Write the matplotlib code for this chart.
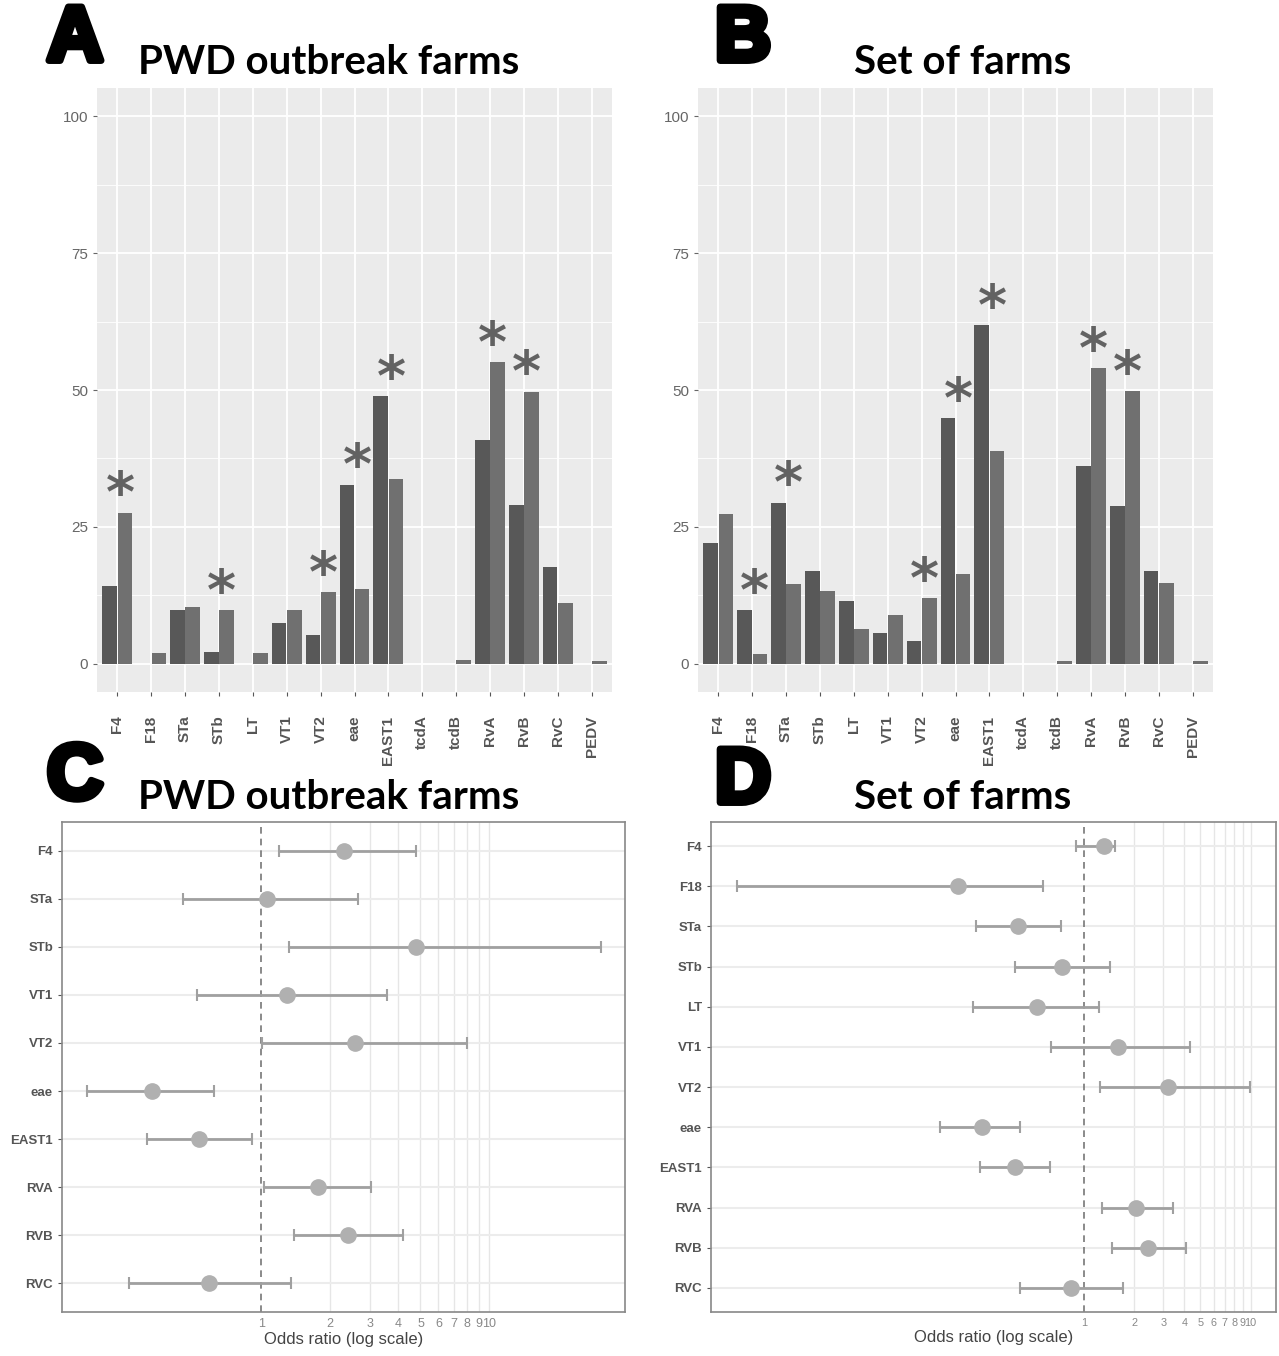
import numpy as np
import matplotlib
matplotlib.use("Agg")
import matplotlib.pyplot as plt
import matplotlib.patheffects as pe

plt.rcParams["font.family"] = ["Liberation Sans", "DejaVu Sans"]

# bar panels (A, B): prevalence in % for two groups
genes = ["F4", "F18", "STa", "STb", "LT", "VT1", "VT2", "eae", "EAST1",
         "tcdA", "tcdB", "RvA", "RvB", "RvC", "PEDV"]
a_dark = [14.2, 0, 9.7, 2.1, 0, 7.5, 5.3, 32.7, 48.9, 0, 0, 40.8, 29.0, 17.6, 0]
a_light = [27.6, 2.0, 10.3, 9.7, 2.0, 9.7, 13.0, 13.6, 33.7, 0, 0.7, 55.1, 49.7, 11.1, 0.4]
a_stars = ["F4", "STb", "VT2", "eae", "EAST1", "RvA", "RvB"]

b_dark = [22.0, 9.7, 29.4, 17.0, 11.4, 5.5, 4.2, 44.8, 61.8, 0, 0, 36.1, 28.8, 17.0, 0]
b_light = [27.4, 1.8, 14.6, 13.3, 6.4, 8.9, 11.9, 16.4, 38.9, 0, 0.5, 54.0, 49.8, 14.7, 0.5]
b_stars = ["F18", "STa", "VT2", "eae", "EAST1", "RvA", "RvB"]

# odds ratio panels (C, D)
c_labels = ["F4", "STa", "STb", "VT1", "VT2", "eae", "EAST1", "RVA", "RVB", "RVC"]
c_or = [2.30, 1.06, 4.80, 1.29, 2.59, 0.331, 0.532, 1.77, 2.39, 0.588]
c_lo = [1.19, 0.452, 1.32, 0.521, 1.01, 0.172, 0.315, 1.03, 1.39, 0.262]
c_hi = [4.76, 2.65, 31.2, 3.55, 8.04, 0.618, 0.908, 3.02, 4.21, 1.35]

d_labels = ["F4", "F18", "STa", "STb", "LT", "VT1", "VT2", "eae", "EAST1", "RVA", "RVB", "RVC"]
d_or = [1.32, 0.176, 0.403, 0.738, 0.523, 1.60, 3.18, 0.245, 0.386, 2.05, 2.42, 0.84]
d_lo = [0.895, 0.00836, 0.226, 0.386, 0.216, 0.634, 1.25, 0.137, 0.238, 1.28, 1.47, 0.414]
d_hi = [1.53, 0.568, 0.728, 1.43, 1.23, 4.31, 9.86, 0.414, 0.626, 3.41, 4.08, 1.71]

or_ticks = [1, 2, 3, 4, 5, 6, 7, 8, 9, 10]
or_ticklabels = ["1", "2", "3", "4", "5", "6", "7", "8", "9", "10"]

dark_col = "#585858"
light_col = "#707070"
star_col = "#626262"
W, H = 1279, 1356

fig = plt.figure(figsize=(W / 100, H / 100), dpi=100)


def box(l, t, r, b):
    return [l / W, 1 - b / H, (r - l) / W, (b - t) / H]


def bar_panel(rect, dark, light, stars):
    ax = fig.add_axes(rect)
    ax.set_facecolor("#ebebeb")
    x = np.arange(len(genes))
    bw = 0.43
    ax.bar(x - 0.225, dark, width=bw, color=dark_col, zorder=3)
    ax.bar(x + 0.225, light, width=bw, color=light_col, zorder=3)
    for g in stars:
        i = genes.index(g)
        top = max(dark[i], light[i])
        ax.text(x[i] + 0.08, top + 3.0, "*", ha="center", va="center",
                fontsize=40, fontweight="bold", family="DejaVu Sans",
                color=star_col, zorder=4)
    ax.set_xlim(-0.6, len(genes) - 0.4)
    ax.set_ylim(-5.2, 105.2)
    ax.set_yticks([0, 25, 50, 75, 100])
    ax.set_yticks([12.5, 37.5, 62.5, 87.5], minor=True)
    ax.set_xticks(x)
    ax.set_xticklabels(genes, rotation=90, fontsize=11, fontweight="bold",
                       color="#555555")
    ax.tick_params(axis="y", labelsize=11, labelcolor="#666666", color="#666666",
                   length=3)
    ax.tick_params(axis="x", color="#555555", length=3, pad=14)
    ax.tick_params(which="minor", length=0)
    ax.grid(True, which="major", color="white", linewidth=1.3, zorder=0)
    ax.grid(True, which="minor", axis="y", color="white", linewidth=0.6, zorder=0)
    ax.set_axisbelow(True)
    for s in ax.spines.values():
        s.set_visible(False)
    return ax


def or_panel(rect, labels, orv, lo, hi, xlim, tick_size):
    ax = fig.add_axes(rect)
    y = np.arange(len(labels))[::-1]
    ax.set_xscale("log")
    ax.set_xlim(*xlim)
    ax.set_ylim(-0.6, len(labels) - 0.4)
    ax.errorbar(orv, y, xerr=[np.array(orv) - np.array(lo), np.array(hi) - np.array(orv)],
                fmt="none", ecolor="#a0a0a0", elinewidth=2, capsize=4, capthick=1.5,
                zorder=3)
    ax.plot(orv, y, "o", color="#b0b0b0", markersize=11, zorder=4)
    ax.axvline(1, color="#777777", linestyle=(0, (4, 3)), linewidth=1.2, zorder=2)
    ax.set_xticks(or_ticks)
    ax.set_xticklabels(or_ticklabels)
    ax.xaxis.set_minor_locator(matplotlib.ticker.NullLocator())
    ax.set_yticks(y)
    ax.set_yticklabels(labels, fontsize=9.5, fontweight="bold", color="#555555")
    ax.tick_params(axis="y", color="#555555", length=3)
    ax.tick_params(axis="x", length=0, labelsize=tick_size, labelcolor="#888888", pad=4)
    for t in or_ticks[1:]:
        ax.axvline(t, color="#e6e6e6", linewidth=1.0, zorder=1)
    for yy in y:
        ax.axhline(yy, color="#ececec", linewidth=1.5, zorder=1)
    for s in ax.spines.values():
        s.set_color("#888888")
        s.set_linewidth(1.2)
    ax.set_xlabel("Odds ratio (log scale)", fontsize=12, color="#444444", labelpad=2)
    return ax


bar_panel(box(97, 88, 612, 692), a_dark, a_light, a_stars)
bar_panel(box(698, 88, 1213, 692), b_dark, b_light, b_stars)
or_panel(box(62, 822, 625, 1312), c_labels, c_or, c_lo, c_hi, (0.133, 39.6), 9)
or_panel(box(711, 822, 1276, 1312), d_labels, d_or, d_lo, d_hi, (0.0058, 14.2), 7.8)

title_font = dict(fontsize=29, fontweight="bold", family=["Lato", "DejaVu Sans"],
                  ha="center", va="center", color="black")
fig.text(329 / W, 1 - 63 / H, "PWD outbreak farms", **title_font)
fig.text(963 / W, 1 - 63 / H, "Set of farms", **title_font)
fig.text(329 / W, 1 - 797 / H, "PWD outbreak farms", **title_font)
fig.text(963 / W, 1 - 797 / H, "Set of farms", **title_font)

letter_font = dict(fontsize=56, fontweight="bold", family=["Liberation Sans", "DejaVu Sans"],
                   ha="center", va="center", color="black",
                   path_effects=[pe.withStroke(linewidth=5, foreground="black")])
fig.text(75 / W, 1 - 40 / H, "A", **letter_font)
fig.text(743 / W, 1 - 40 / H, "B", **letter_font)
fig.text(75 / W, 1 - 778 / H, "C", **letter_font)
fig.text(743 / W, 1 - 782 / H, "D", **letter_font)

fig.savefig("out.png", dpi=100, facecolor="white")
